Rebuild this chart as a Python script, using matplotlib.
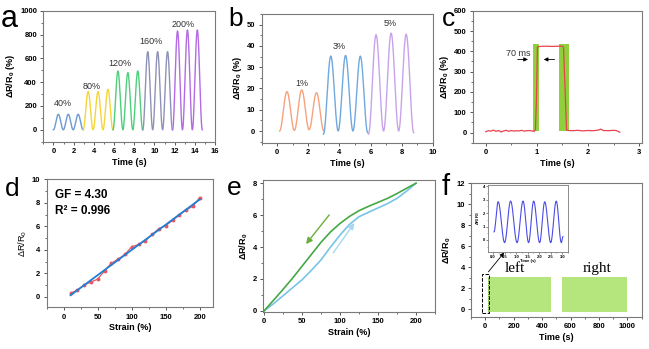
import matplotlib
matplotlib.use("Agg")
import matplotlib.pyplot as plt
import numpy as np
from matplotlib.ticker import MultipleLocator, AutoMinorLocator
from matplotlib.patches import Rectangle

plt.rcParams['font.family'] = ['Liberation Sans', 'DejaVu Sans']
plt.rcParams['mathtext.default'] = 'regular'

# ---- data ----
# a: cyclic response at increasing strain (peak heights of each cycle)
a_labels = ['40%', '80%', '120%', '160%', '200%']
a_starts = [0.0, 2.95, 5.9, 8.85, 11.8]
a_period = 0.98
a_peaks = [[130, 130, 130], [321, 321, 340], [494, 480, 494],
           [656, 656, 656], [830, 838, 838]]
a_troughs = [[0, 0, 0, 0]] * 5
a_colors = ['#6b9bd2', '#f5d43c', '#4fcf7c', '#8e93b6', '#b36be3']

# b: small strains
b_labels = ['1%', '3%', '5%']
b_starts = [0.15, 2.97, 5.87]
b_periods = [0.95, 0.95, 0.97]
b_peaks = [[18.5, 19.3, 18.0], [35.2, 35.5, 35.2], [45.3, 46.0, 45.5]]
b_troughs = [[0.0, 0.3, 0.6, 0.0], [-1.5, 0.0, 0.0, -0.8], [-1.5, 0.0, 0.0, -0.8]]
b_colors = ['#f5a27e', '#6fa9dd', '#c9a3ea']

# c: response time
c_t = [0.00, 0.05, 0.10, 0.15, 0.20, 0.25, 0.30, 0.35, 0.40, 0.45, 0.50, 0.55,
       0.60, 0.65, 0.70, 0.75, 0.80, 0.85, 0.90, 0.95, 0.97, 0.99, 1.01, 1.10,
       1.20, 1.30, 1.40, 1.50, 1.52, 1.55, 1.58, 1.62, 1.70, 1.80, 1.90, 2.00,
       2.10, 2.20, 2.25, 2.30, 2.40, 2.50, 2.55, 2.62]
c_v = [4, 9, 7, 12, 6, 10, 3, 8, 11, 6, 10, 7, 9, 8, 11, 7, 9, 10, 8, 6, 15,
       150, 422, 425, 425, 424, 425, 425, 420, 220, 12, 10, 9, 11, 8, 10, 9,
       12, 17, 10, 9, 11, 10, 2]
c_bars = [(0.92, 1.05), (1.44, 1.62)]
c_bar_low, c_bar_high = 10, 435

# d: gauge factor
d_strain = [10, 20, 30, 40, 50, 60, 70, 80, 90, 100, 110, 120, 130, 140, 150,
            160, 170, 180, 190, 200]
d_resp = [0.30, 0.55, 1.00, 1.25, 1.50, 2.20, 2.85, 3.20, 3.60, 4.25, 4.45,
          4.75, 5.30, 5.80, 6.05, 6.50, 6.95, 7.40, 7.70, 8.45]

# e: loading / unloading
e_strain = [0, 12.5, 25, 37.5, 50, 62.5, 75, 87.5, 100, 112.5, 125, 137.5,
            150, 162.5, 175, 187.5, 200]
e_unload = [0, 0.67, 1.35, 2.05, 2.8, 3.55, 4.3, 4.95, 5.48, 5.92, 6.28, 6.55,
            6.8, 7.05, 7.35, 7.68, 8.0]
e_load = [0, 0.45, 0.95, 1.45, 1.95, 2.55, 3.2, 4.0, 4.75, 5.42, 5.9, 6.18,
          6.45, 6.72, 7.05, 7.5, 8.0]

# f: long term cycling
f_segments = [(20, 462), (540, 1000)]
f_low, f_high = -0.3, 3.1
f_in_t = [0.04, 0.22, 0.50, 0.76, 1.04, 1.30, 1.54, 1.76, 2.02, 2.24, 2.50,
          2.74, 2.96, 3.03]
f_in_v = [0.6, 2.85, -0.2, 2.9, -0.2, 2.9, -0.2, 2.9, -0.2, 2.85, -0.2, 2.9,
          -0.2, 0.25]


def smooth_path(ts, vs, n=30):
    # half-cosine strokes between the read extrema
    tt, vv = [], []
    for i in range(len(ts) - 1):
        s = np.linspace(0, 1, n)
        tt.append(ts[i] + s * (ts[i + 1] - ts[i]))
        vv.append(vs[i] + (vs[i + 1] - vs[i]) * (1 - np.cos(np.pi * s)) / 2)
    return np.concatenate(tt), np.concatenate(vv)


def cycles(start, period, peaks, troughs):
    ts = start + period / 2 * np.arange(2 * len(peaks) + 1)
    vs = []
    for k in range(len(peaks)):
        vs += [troughs[k], peaks[k]]
    vs.append(troughs[-1])
    return smooth_path(ts, vs)


def style(ax, xmaj, ymaj, fs=5.5):
    for s in ax.spines.values():
        s.set_color('#7a7a7a')
        s.set_linewidth(0.8)
    ax.xaxis.set_major_locator(MultipleLocator(xmaj))
    ax.yaxis.set_major_locator(MultipleLocator(ymaj))
    ax.xaxis.set_minor_locator(AutoMinorLocator(2))
    ax.yaxis.set_minor_locator(AutoMinorLocator(2))
    ax.tick_params(which='major', direction='out', length=2.5, width=0.7,
                   color='#555555', labelsize=fs, pad=2)
    ax.tick_params(which='minor', direction='out', length=1.5, width=0.6,
                   color='#555555')
    for lab in ax.get_xticklabels() + ax.get_yticklabels():
        lab.set_fontweight('bold')


W, H = 649, 349
fig = plt.figure(figsize=(W / 100, H / 100), dpi=100)


def box(x0, y0, x1, y1):
    return [x0 / W, 1 - y1 / H, (x1 - x0) / W, (y1 - y0) / H]


lab_kw = dict(fontsize=6.5, fontweight='bold', labelpad=2)

# ---- a ----
ax = fig.add_axes(box(43.3, 10.7, 215, 141.7))
for st, pk, tr, col in zip(a_starts, a_peaks, a_troughs, a_colors):
    t, v = cycles(st, a_period, pk, tr)
    ax.plot(t, v, color=col, lw=1.0)
a_text_pos = [(0.9, 218), (3.8, 363), (6.6, 558), (9.7, 740), (12.85, 888)]
for (x, y), lab in zip(a_text_pos, a_labels):
    ax.text(x, y, lab, fontsize=6.5, ha='center', va='center', color='#333333')
ax.set_xlim(-1, 16)
ax.set_ylim(-100, 1000)
style(ax, 2, 200)
ax.set_xlabel('Time (s)', **lab_kw)
ax.set_ylabel('ΔR/R$_0$ (%)', **lab_kw)

# ---- b ----
ax = fig.add_axes(box(261.7, 14, 432.7, 142.7))
for st, per, pk, tr, col in zip(b_starts, b_periods, b_peaks, b_troughs, b_colors):
    t, v = cycles(st, per, pk, tr)
    ax.plot(t, v, color=col, lw=1.0)
b_text_pos = [(1.6, 22.5), (4.0, 39.5), (7.25, 50.5)]
for (x, y), lab in zip(b_text_pos, b_labels):
    ax.text(x, y, lab, fontsize=6.5, ha='center', va='center', color='#333333')
ax.set_xlim(-1, 10)
ax.set_ylim(-5.5, 55)
style(ax, 2, 10)
ax.set_xlabel('Time (s)', **lab_kw)
ax.set_ylabel('ΔR/R$_0$ (%)', **lab_kw)

# ---- c ----
ax = fig.add_axes(box(473, 10.7, 641.7, 142.7))
for x0, x1 in c_bars:
    ax.fill_between([x0, x1], c_bar_low, c_bar_high, color='#8fd03c', lw=0)
ax.plot(c_t, c_v, color='#e8434f', lw=0.9)
ax.text(0.63, 390, '70 ms', fontsize=6.5, ha='center', va='center', color='#333333')
ax.annotate('', xy=(0.88, 360), xytext=(0.57, 360),
            arrowprops=dict(arrowstyle='-|>', color='black', lw=0.6,
                            mutation_scale=6))
ax.annotate('', xy=(1.08, 360), xytext=(1.40, 360),
            arrowprops=dict(arrowstyle='-|>', color='black', lw=0.6,
                            mutation_scale=6))
ax.set_xlim(-0.25, 3.05)
ax.set_ylim(-50, 600)
style(ax, 1, 100)
ax.set_xlabel('Time (s)', **lab_kw)
ax.set_ylabel('ΔR/R$_0$ (%)', **lab_kw)

# ---- d ----
ax = fig.add_axes(box(46.7, 179.3, 213.3, 307.3))
ax.plot(d_strain, d_resp, color='#e65763', lw=0.9, marker='o', ms=1.8)
k, b0 = np.polyfit(d_strain, d_resp, 1)
xs = np.array([d_strain[0], d_strain[-1]])
ax.plot(xs, k * xs + b0, color='#1f7fd6', lw=1.3)
ax.text(-13, 8.65, 'GF = 4.30', fontsize=8.5, fontweight='bold', va='center')
ax.text(-13, 7.3, 'R² = 0.996', fontsize=8.5, fontweight='bold', va='center')
ax.set_xlim(-25, 220)
ax.set_ylim(-0.9, 10)
style(ax, 50, 2)
ax.set_xlabel('Strain (%)', **lab_kw)
ax.set_ylabel('ΔR/R$_0$', fontsize=6.5, labelpad=2)

# ---- e ----
ax = fig.add_axes(box(263.3, 180, 435, 311.7))
ax.plot(e_strain, e_load, color='#78c4e6', lw=1.2)
ax.plot(e_strain, e_unload, color='#45a845', lw=1.2)
ax.annotate('', xy=(53, 4.05), xytext=(88, 6.15),
            arrowprops=dict(arrowstyle='-|>', color='#6aae3a', lw=1.0,
                            mutation_scale=9))
ax.annotate('', xy=(121, 5.65), xytext=(89, 3.5),
            arrowprops=dict(arrowstyle='-|>', color='#a6d8ef', lw=1.0,
                            mutation_scale=9))
ax.set_xlim(-1, 225)
ax.set_ylim(-0.05, 8.2)
style(ax, 50, 2)
ax.set_xlabel('Strain (%)', **lab_kw)
ax.set_ylabel('ΔR/R$_0$', **lab_kw)

# ---- f ----
ax = fig.add_axes(box(471, 183.3, 641.7, 317))
for x0, x1 in f_segments:
    ax.fill_between([x0, x1], f_low, f_high, color='#b5e57d', lw=0)
ax.plot([20, 20], [f_low, f_high], color='#4f8a2a', lw=0.6, ls=':')
ax.add_patch(Rectangle((-22, -0.4), 47, 3.75, fill=False, ls='--', lw=0.7,
                       ec='black'))
ax.annotate('', xy=(145, 5.6), xytext=(10, 3.35),
            arrowprops=dict(arrowstyle='-|>', color='black', lw=0.6,
                            mutation_scale=6))
ax.text(211, 3.85, 'left', fontsize=11, family='Liberation Serif',
        ha='center', va='center')
ax.text(789, 3.85, 'right', fontsize=11, family='Liberation Serif',
        ha='center', va='center')
ax.set_xlim(-100, 1100)
ax.set_ylim(-0.75, 12)
style(ax, 200, 2)
ax.set_xlabel('Time (s)', **lab_kw)
ax.set_ylabel('ΔR/R$_0$', **lab_kw)

# inset
ax = fig.add_axes(box(488, 185, 568, 252))
t, v = smooth_path(f_in_t, f_in_v)
ax.plot(t, v, color='#4b4be6', lw=0.8)
ax.set_xlim(-0.22, 3.25)
ax.set_ylim(-0.9, 4.1)
style(ax, 0.5, 1, fs=3.0)
ax.tick_params(which='major', length=1.2, width=0.5, pad=0.8)
ax.tick_params(which='minor', length=0.7, width=0.4)
for s in ax.spines.values():
    s.set_linewidth(0.6)
ax.set_xlabel('Time (s)', fontsize=3.0, fontweight='bold', labelpad=0)
ax.set_ylabel('ΔR/R$_0$', fontsize=3.0, fontweight='bold', labelpad=0.5)

# panel letters
for x, y, s, fs in [(1, 27, 'a', 22), (228, 26, 'b', 19), (442, 26, 'c', 19),
                    (5, 196, 'd', 19), (227, 195, 'e', 19), (442, 195, 'f', 21)]:
    fig.text(x / W, 1 - y / H, s, fontsize=fs, va='baseline', ha='left')

fig.savefig('out.png', dpi=100)
